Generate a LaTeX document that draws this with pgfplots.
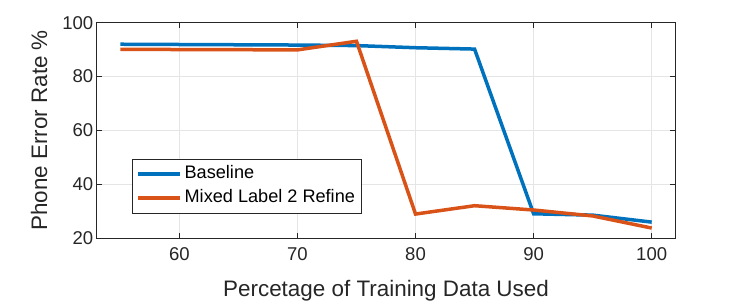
\documentclass[border=0pt]{standalone}
\usepackage{pgfplots}
\pgfplotsset{compat=1.18}
\usepackage{fontspec}
\setmainfont{Liberation Sans}
\definecolor{mblue}{rgb}{0,0.447,0.741}
\definecolor{morange}{rgb}{0.85,0.325,0.098}
\definecolor{mtext}{rgb}{0.15,0.15,0.15}
\begin{document}
\begin{tikzpicture}[x=1bp,y=1bp]
\useasboundingbox (0,0) rectangle (747,303);
\begin{axis}[
  at={(96.7bp,65bp)}, anchor=south west,
  scale only axis, width=578.6bp, height=215.3bp,
  xmin=53, xmax=102, ymin=20, ymax=100,
  xtick={60,70,80,90,100}, ytick={20,40,60,80,100},
  grid=major, major grid style={color=black!10, line width=0.6pt},
  axis line style={color=mtext, line width=0.7pt},
  tick style={color=mtext, line width=0.7pt},
  tick align=inside, major tick length=5bp,
  xtick pos=both, ytick pos=both,
  tick label style={font=\fontsize{18.6}{20}\selectfont, color=mtext},
  xticklabel style={yshift=-6bp},
  /pgf/number format/assume math mode=true,
  xlabel={Percetage of Training Data Used},
  ylabel={Phone Error Rate \%},
  label style={font=\fontsize{22.5}{24}\selectfont, color=mtext},
  xlabel style={yshift=-13bp},
  ylabel style={yshift=8bp},
  legend style={at={(0.0615,0.1147)}, anchor=south west, draw=mtext, line width=0.7pt,
    font=\fontsize{18.2}{21}\selectfont, text=black, inner xsep=4bp, inner ysep=3bp,
    row sep=0pt,
    nodes={inner xsep=2.5bp, inner ysep=3.5bp, text height=13bp, text depth=4bp}},
  legend cell align=left,
  legend image code/.code={\draw[#1, line width=3.5bp] (0bp,0bp) -- (42bp,0bp);},
]
\addplot[color=mblue, line width=3.5bp] coordinates {
(55,92.0) (70,91.7) (75,91.5) (80,90.7) (85,90.2) (90,29.0) (95,28.5) (100,25.9)};
\addlegendentry{Baseline}
\addplot[color=morange, line width=3.5bp] coordinates {
(55,90.1) (70,89.9) (75,93.1) (80,28.9) (85,32.0) (90,30.4) (95,28.2) (100,23.7)};
\addlegendentry{Mixed Label 2 Refine}
\end{axis}
\end{tikzpicture}
\end{document}
